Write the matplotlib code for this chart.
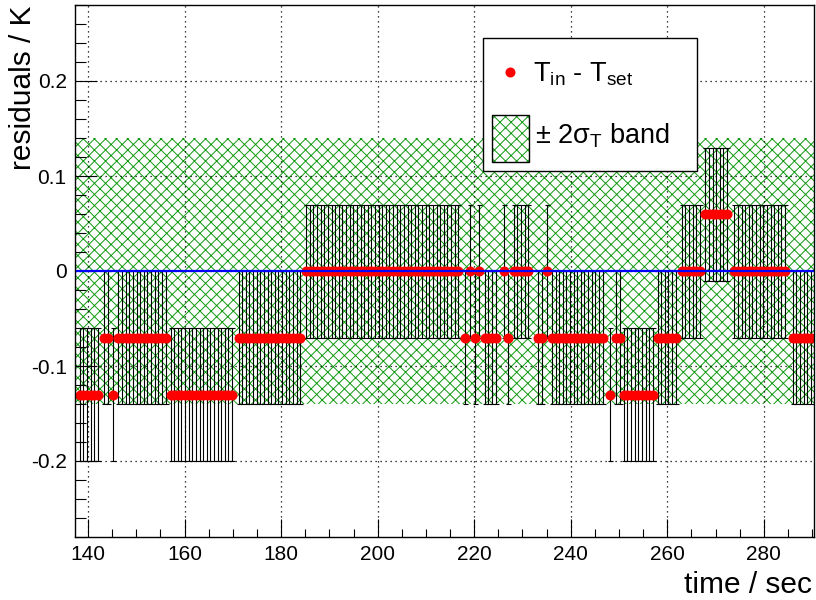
import numpy as np
import matplotlib
matplotlib.use('Agg')
import matplotlib.pyplot as plt
from matplotlib.patches import Rectangle
from matplotlib.lines import Line2D
from matplotlib.ticker import MultipleLocator, FixedLocator, FixedFormatter

plt.rcParams['font.family'] = ['Liberation Sans', 'DejaVu Sans']
plt.rcParams['mathtext.fontset'] = 'custom'
plt.rcParams['mathtext.rm'] = 'Liberation Sans'
plt.rcParams['mathtext.it'] = 'Liberation Sans:italic'
plt.rcParams['axes.unicode_minus'] = False
plt.rcParams['hatch.linewidth'] = 0.7

# runs of constant residual (start / end time in sec, value in K)
run_start = [138.3, 143.3, 145.2, 146.3, 157.1, 171.2, 185.2, 218.2, 219.1, 220.1,
             221.0, 222.2, 226.1, 227.0, 228.2, 233.2, 235.1, 236.1, 248.1, 249.4,
             251.0, 258.0, 263.0, 267.9, 273.9, 286.0]
run_end = [142.3, 144.4, 145.2, 156.3, 170.0, 184.2, 216.9, 218.2, 219.1, 220.1,
           221.0, 224.9, 226.1, 227.0, 231.9, 234.0, 235.1, 247.1, 248.1, 250.2,
           257.1, 262.1, 266.9, 273.1, 284.9, 290.2]
run_value = [-0.13, -0.07, -0.13, -0.07, -0.13, -0.07, 0.0, -0.07, 0.0, -0.07,
             0.0, -0.07, 0.0, -0.07, 0.0, -0.07, 0.0, -0.07, -0.13, -0.07,
             -0.13, -0.07, 0.0, 0.06, 0.0, -0.07]
sample_dt = 0.75      # time between readings
t_error = 0.07        # error on each residual
band_sigma2 = 0.14    # 2 sigma band

x_ticks = [140, 160, 180, 200, 220, 240, 260, 280]
y_ticks = [-0.2, -0.1, 0.0, 0.1, 0.2]
y_tick_labels = ['-0.2', '-0.1', '0', '0.1', '0.2']


def main():
    times = []
    values = []
    for s, e, v in zip(run_start, run_end, run_value):
        tt = np.arange(s, e + 1e-6, sample_dt)
        times.extend(tt)
        values.extend([v] * len(tt))
    times = np.array(times)
    values = np.array(values)

    fig = plt.figure(figsize=(8.16, 6.0), dpi=100)
    ax = fig.add_axes([75 / 816, 63 / 600, 739 / 816, 532 / 600])
    xlim = (137.3, 290.4)
    ax.set_xlim(*xlim)
    ax.set_ylim(-0.28, 0.28)

    green = '#109a10'
    ax.fill_between(xlim, -band_sigma2, band_sigma2, facecolor='none', edgecolor=green,
                    hatch='xxx', linewidth=0, zorder=1)

    ax.grid(True, color='black', linestyle=(0, (1, 3)), linewidth=0.9, zorder=2)
    ax.set_axisbelow(False)

    ax.errorbar(times, values, yerr=t_error, fmt='none', ecolor='black', elinewidth=0.8,
                capsize=1.8, capthick=0.8, zorder=3)
    ax.plot(times, values, 'o', color='red', markersize=7.2, markeredgewidth=0, zorder=4)
    ax.axhline(0, color='blue', linewidth=1.6, zorder=5)

    ax.xaxis.set_major_locator(FixedLocator(x_ticks))
    ax.xaxis.set_minor_locator(MultipleLocator(5))
    ax.yaxis.set_major_locator(FixedLocator(y_ticks))
    ax.yaxis.set_major_formatter(FixedFormatter(y_tick_labels))
    ax.yaxis.set_minor_locator(MultipleLocator(0.02))
    ax.tick_params(which='both', direction='in', top=False, right=False, labelsize=15,
                   width=0.8, color='black')
    ax.tick_params(axis='x', which='major', length=13, pad=6)
    ax.tick_params(axis='x', which='minor', length=6)
    ax.tick_params(axis='y', which='major', length=16, pad=6)
    ax.tick_params(axis='y', which='minor', length=8)
    for sp in ax.spines.values():
        sp.set_linewidth(1.0)
        sp.set_zorder(6)

    fig.text(812 / 816, 1 - 585 / 600, 'time / sec', fontsize=21.5, ha='right', va='center')
    fig.text(23 / 816, 1 - 6 / 600, 'residuals / K', fontsize=21.5, rotation=90,
             ha='center', va='top')

    # legend box
    fig.patches.append(Rectangle((483 / 816, 1 - 171 / 600), 214 / 816, 133 / 600,
                                 transform=fig.transFigure, facecolor='white',
                                 edgecolor='black', linewidth=1.0, zorder=10))
    fig.lines.append(Line2D([510 / 816], [1 - 71.5 / 600], marker='o', color='red',
                            markersize=7.2, markeredgewidth=0, transform=fig.transFigure,
                            zorder=11))
    fig.text(533 / 816, 1 - 82 / 600, r'T$_{\mathrm{in}}$ - T$_{\mathrm{set}}$',
             fontsize=19.5, ha='left', va='baseline', zorder=11)
    fig.patches.append(Rectangle((492 / 816, 1 - 162 / 600), 37 / 816, 47 / 600,
                                 transform=fig.transFigure, facecolor='white',
                                 edgecolor=green, hatch='xxx', linewidth=0, zorder=11))
    fig.patches.append(Rectangle((492 / 816, 1 - 162 / 600), 37 / 816, 47 / 600,
                                 transform=fig.transFigure, facecolor='none',
                                 edgecolor='black', linewidth=1.0, zorder=12))
    fig.text(535 / 816, 1 - 143 / 600, '\u00b1 2\u03c3$_{\\mathrm{T}}$ band',
             fontsize=19.5, ha='left', va='baseline', zorder=11)

    fig.savefig('out.png', dpi=100)


if __name__ == "__main__":
    main()
